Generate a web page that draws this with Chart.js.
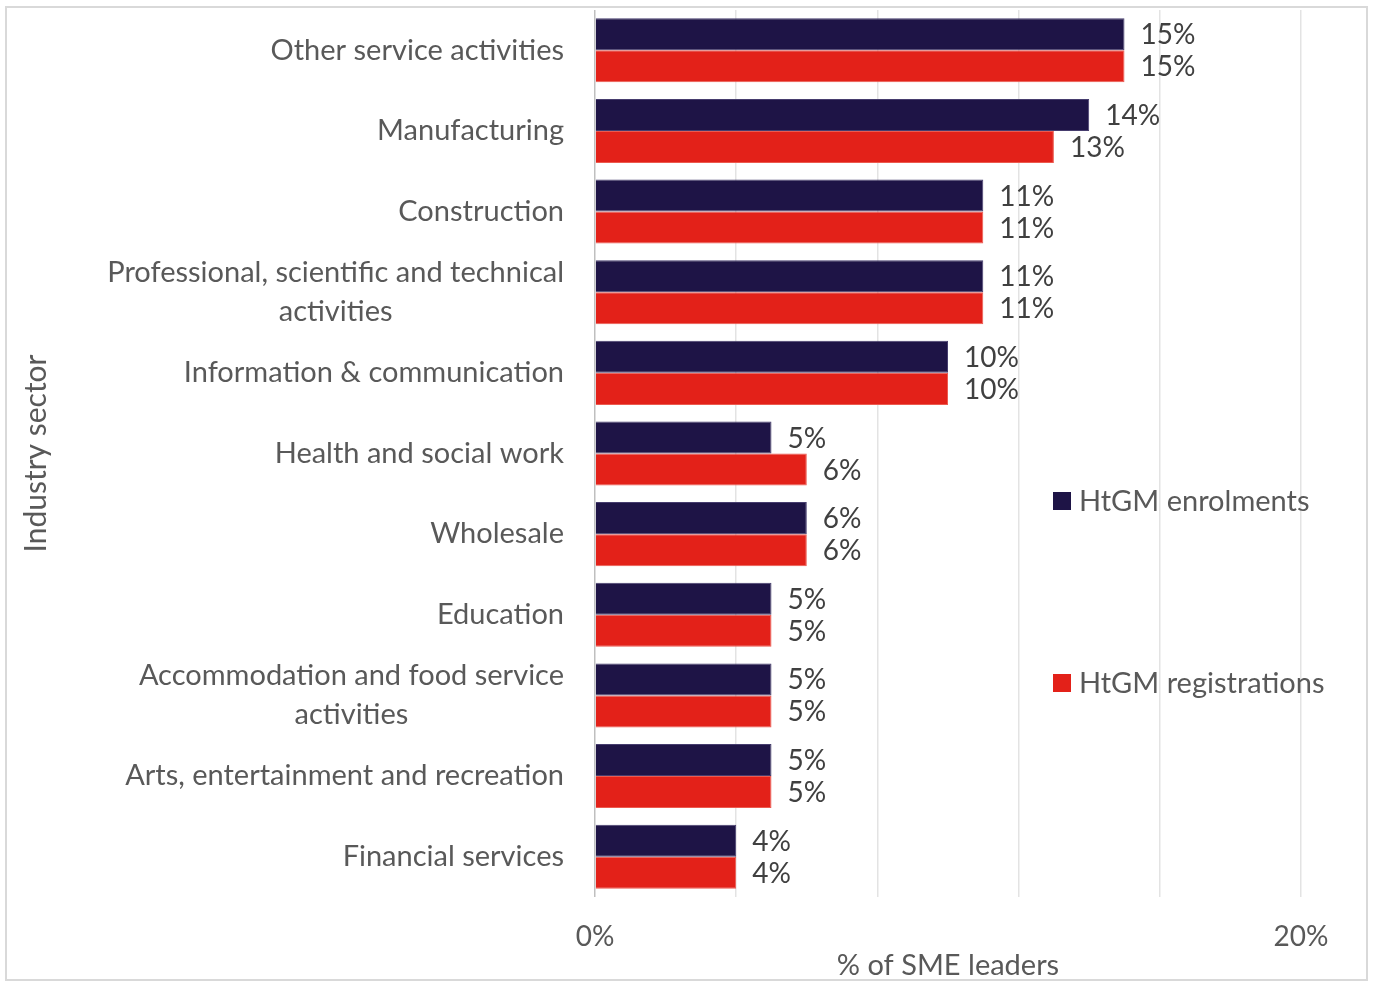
<!DOCTYPE html>
<html>
<head>
<meta charset="utf-8">
<script src="https://cdn.jsdelivr.net/npm/chart.js@4/dist/chart.umd.min.js"></script>
<style>
  html, body { margin: 0; padding: 0; background: #ffffff; overflow: hidden; }
  #wrap { position: absolute; left: 0; top: 0; width: 1373px; height: 983px; }
  #frame { position: absolute; left: 5px; top: 6px; width: 1359px; height: 971px; border: 2px solid #d9d9d9; pointer-events: none; }
</style>
</head>
<body>
<div id="wrap"><canvas id="chart"></canvas></div>
<div id="frame"></div>
<script>
// Industry sectors (multi-line entries are wrapped labels)
const categories = [
  'Other service activities',
  'Manufacturing',
  'Construction',
  ['Professional, scientific and technical', 'activities'],
  'Information & communication',
  'Health and social work',
  'Wholesale',
  'Education',
  ['Accommodation and food service', 'activities'],
  'Arts, entertainment and recreation',
  'Financial services'
];

// Share of SME leaders per sector, in percent
const enrolments    = [15, 14, 11, 11, 10, 5, 6, 5, 5, 5, 4];
const registrations = [15, 13, 11, 11, 10, 6, 6, 5, 5, 5, 4];

const seriesNames = ['HtGM enrolments', 'HtGM registrations'];
const xTickLabels = { 0: '0%', 20: '20%' };

const NAVY = '#1e1446';
const RED = '#e32119';
const FONT = 'Lato, "Open Sans", sans-serif';
const TEXT = '#595959';
const LABEL_SIZE = 29;
const VALUE_SIZE = 28;

const pct = v => v + '%';

// Value labels at the end of each bar
const valueLabels = {
  id: 'valueLabels',
  afterDatasetsDraw(chart) {
    const ctx = chart.ctx;
    ctx.save();
    ctx.font = VALUE_SIZE + 'px ' + FONT;
    ctx.fillStyle = '#404040';
    ctx.textAlign = 'left';
    ctx.textBaseline = 'middle';
    chart.data.datasets.forEach((ds, di) => {
      chart.getDatasetMeta(di).data.forEach((bar, i) => {
        ctx.fillText(pct(ds.data[i]), bar.x + 16, bar.y + 1);
      });
    });
    ctx.restore();
  }
};

// Sector names: each block right-aligned to the axis, its lines centred
const sectorLabels = {
  id: 'sectorLabels',
  afterDraw(chart) {
    const ctx = chart.ctx;
    const yScale = chart.scales.y;
    const right = chart.chartArea.left - 31;
    const lineGap = 39;
    ctx.save();
    ctx.font = LABEL_SIZE + 'px ' + FONT;
    ctx.fillStyle = TEXT;
    ctx.textAlign = 'center';
    ctx.textBaseline = 'middle';
    chart.data.labels.forEach((label, i) => {
      const lines = Array.isArray(label) ? label : [label];
      const w = Math.max(...lines.map(l => ctx.measureText(l).width));
      const cx = right - w / 2;
      const cy = yScale.getPixelForTick(i);
      lines.forEach((line, k) => {
        ctx.fillText(line, cx, cy + (k - (lines.length - 1) / 2) * lineGap);
      });
    });
    ctx.restore();
  }
};

// Legend placed over the right part of the plot
const sideLegend = {
  id: 'sideLegend',
  afterDraw(chart) {
    const ctx = chart.ctx;
    const rows = [501, 683];
    ctx.save();
    ctx.font = LABEL_SIZE + 'px ' + FONT;
    ctx.textAlign = 'left';
    ctx.textBaseline = 'middle';
    chart.data.datasets.forEach((ds, di) => {
      const y = rows[di];
      ctx.fillStyle = ds.backgroundColor;
      ctx.fillRect(1053, y - 9, 18, 18);
      ctx.fillStyle = TEXT;
      ctx.fillText(ds.label, 1079, y + 1);
    });
    ctx.restore();
  }
};

new Chart(document.getElementById('chart'), {
  type: 'bar',
  data: {
    labels: categories,
    datasets: [
      { label: seriesNames[0], data: enrolments, backgroundColor: NAVY, borderColor: '#463d6e', borderWidth: 1 },
      { label: seriesNames[1], data: registrations, backgroundColor: RED, borderColor: '#ec5a4f', borderWidth: 1 }
    ]
  },
  options: {
    indexAxis: 'y',
    responsive: true,
    maintainAspectRatio: false,
    animation: false,
    layout: { padding: { left: 18, top: 10, right: 72, bottom: 0 } },
    datasets: { bar: { categoryPercentage: 0.794, barPercentage: 1.0 } },
    plugins: {
      legend: { display: false },
      tooltip: { enabled: false }
    },
    scales: {
      x: {
        min: 0,
        max: 20,
        afterFit(scale) { scale.height = 86; },
        ticks: {
          stepSize: 4,
          autoSkip: false,
          maxRotation: 0,
          padding: 23,
          color: TEXT,
          font: { family: FONT, size: VALUE_SIZE },
          callback: v => (v in xTickLabels ? xTickLabels[v] : '')
        },
        grid: {
          drawTicks: false,
          color: c => (c.tick && c.tick.value === 0 ? '#bfbfbf' : '#e3e3e3'),
          lineWidth: 1.5
        },
        border: { display: false },
        title: {
          display: true,
          text: '% of SME leaders',
          color: TEXT,
          font: { family: FONT, size: LABEL_SIZE },
          padding: 0
        }
      },
      y: {
        afterFit(scale) { scale.width = 577; },
        ticks: { display: false },
        grid: { display: false, drawTicks: false },
        border: { display: false },
        title: {
          display: true,
          text: 'Industry sector',
          color: TEXT,
          font: { family: FONT, size: 30 },
          padding: 0
        }
      }
    }
  },
  plugins: [valueLabels, sectorLabels, sideLegend]
});
</script>
</body>
</html>
